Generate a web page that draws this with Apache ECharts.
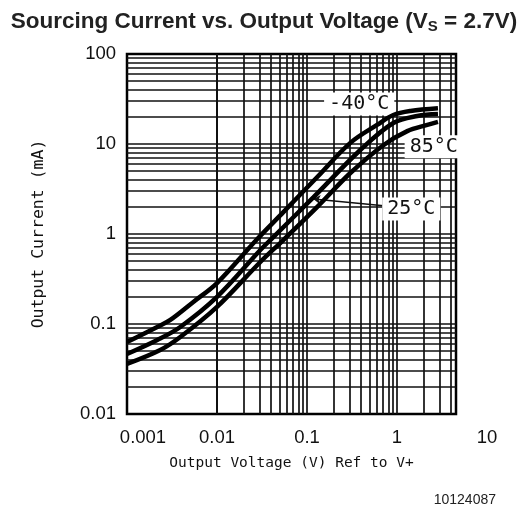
<!DOCTYPE html>
<html>
<head>
<meta charset="utf-8">
<script src="https://cdn.jsdelivr.net/npm/echarts@6/dist/echarts.min.js"></script>
<style>
  html, body { margin: 0; padding: 0; background: #fff; }
  #chart { width: 528px; height: 524px; }
</style>
</head>
<body>
<div id="chart"></div>
<script>
// Output voltage (V, referenced to V+) and sourcing current (mA) per temperature
const voltsM40 = [0.001, 0.00217, 0.00303, 0.00546, 0.01, 0.028, 0.0546, 0.13, 0.303, 0.6, 0.91, 1.41, 2.85];
const currM40  = [0.063, 0.0927, 0.111, 0.176, 0.285, 0.88, 1.75, 4.3, 10.3, 16.3, 21, 23.3, 25];

const volts25  = [0.001, 0.00217, 0.00391, 0.01, 0.0303, 0.0391, 0.1175, 0.391, 0.91, 1.68, 2.85];
const curr25   = [0.0464, 0.0664, 0.0927, 0.2, 0.664, 0.857, 2.55, 8.58, 17.1, 20.5, 21.5];

const volts85  = [0.001, 0.00234, 0.00391, 0.01, 0.0303, 0.0546, 0.13, 0.303, 0.705, 1.3, 2.17, 2.85];
const curr85   = [0.036, 0.0514, 0.0717, 0.155, 0.489, 0.857, 2.0, 4.76, 9.7, 13.9, 16.3, 17.6];

const seriesNames = ['-40°C', '25°C', '85°C'];

// Decade tick labels
const xTickLabels = ['0.001', '0.01', '0.1', '1', '10'];
const yTickLabels = ['0.01', '0.1', '1', '10', '100'];

const xMin = 0.001, xMax = 4.52;   // plotted voltage range
const yMin = 0.01,  yMax = 100;    // plotted current range

function pairs(xs, ys) { return xs.map((x, i) => [x, ys[i]]); }

// 1-2-3-...-9 log paper rulings inside the plot frame
function logRulings(lo, hi) {
  const out = [];
  for (let e = Math.floor(Math.log10(lo)); e <= Math.ceil(Math.log10(hi)); e++) {
    for (let k = 1; k <= 9; k++) {
      const v = +(k * Math.pow(10, e)).toPrecision(6);
      if (v > lo * 1.0001 && v < hi * 0.9999) out.push(v);
    }
  }
  return out;
}

const gridLines = []
  .concat(logRulings(xMin, xMax).map(v => ({ xAxis: v })))
  .concat(logRulings(yMin, yMax).map(v => ({ yAxis: v })));

const monoFont = '"DejaVu Sans Mono", monospace';
const sansFont = '"Liberation Sans", Arial, sans-serif';

function decadeIndex(v, first) { return Math.round(Math.log10(v)) - first; }

const curveStyle = { color: '#000', width: 4.5 };
const tagLabel = {
  show: true, position: 'inside', formatter: '{c}',
  fontFamily: monoFont, fontSize: 20, color: '#111',
  backgroundColor: '#fff', padding: [2, 5, 1, 5]
};

const option = {
  animation: false,
  backgroundColor: '#fff',
  title: [
    {
      text: '{b|Sourcing Current vs. Output Voltage (V}{s|S}{b| = 2.7V)}',
      left: 'center',
      top: 4,
      textStyle: {
        rich: {
          b: { fontFamily: sansFont, fontWeight: 'bold', fontSize: 22.5, color: '#222' },
          s: { fontFamily: sansFont, fontWeight: 'bold', fontSize: 15, color: '#222', verticalAlign: 'bottom', padding: [10, 0, 0, 0] }
        }
      }
    },
    {
      text: '10124087',
      right: 27,
      top: 488,
      textStyle: { fontFamily: sansFont, fontSize: 14, fontWeight: 'normal', color: '#222' }
    }
  ],
  grid: [
    { left: 127, top: 54, width: 329, height: 360, show: true, borderColor: '#000', borderWidth: 2.5, backgroundColor: 'transparent' },
    { left: 127, top: 54, width: 360, height: 360, show: false }
  ],
  xAxis: [
    {
      type: 'log', gridIndex: 0, min: xMin, max: xMax, logBase: 10,
      axisLine: { show: false }, axisTick: { show: false }, splitLine: { show: false },
      axisLabel: { show: false },
      name: 'Output Voltage (V) Ref to V+',
      nameLocation: 'middle', nameGap: 42,
      nameTextStyle: { fontFamily: monoFont, fontSize: 14.5, color: '#111' }
    },
    {
      type: 'log', gridIndex: 1, min: 0.001, max: 10, logBase: 10,
      axisLine: { show: false }, axisTick: { show: false }, splitLine: { show: false },
      axisLabel: {
        margin: 14,
        fontFamily: sansFont, fontSize: 18.5, color: '#111',
        formatter: function (v) {
          const i = decadeIndex(v, -3);
          const t = xTickLabels[i];
          return i === 0 ? '{first|' + t + '}' : t;
        },
        rich: { first: { fontFamily: sansFont, fontSize: 18.5, color: '#111', padding: [0, 0, 0, 32] } }
      }
    }
  ],
  yAxis: [
    {
      type: 'log', gridIndex: 0, min: yMin, max: yMax, logBase: 10,
      axisLine: { show: false }, axisTick: { show: false }, splitLine: { show: false },
      axisLabel: {
        margin: 11, fontFamily: sansFont, fontSize: 18.5, color: '#111',
        formatter: function (v) { return yTickLabels[decadeIndex(v, -2)]; }
      },
      name: 'Output Current (mA)',
      nameLocation: 'middle', nameGap: 80, nameRotate: 90,
      nameTextStyle: { fontFamily: monoFont, fontSize: 16.5, color: '#111' }
    },
    {
      type: 'log', gridIndex: 1, min: yMin, max: yMax, show: false
    }
  ],
  series: [
    {
      name: 'rulings', type: 'line', xAxisIndex: 0, yAxisIndex: 0, data: [], z: 1,
      silent: true,
      markLine: {
        silent: true, symbol: ['none', 'none'], animation: false,
        label: { show: false },
        lineStyle: { color: '#111', width: 1.7, type: 'solid' },
        data: gridLines
      }
    },
    {
      name: seriesNames[0], type: 'line', smooth: 0.35, showSymbol: false, z: 5,
      data: pairs(voltsM40, currM40), lineStyle: curveStyle,
      markPoint: {
        symbolSize: 0,
        data: [{ coord: [0.38, 27.8], value: seriesNames[0] }],
        label: tagLabel
      }
    },
    {
      name: seriesNames[1], type: 'line', smooth: 0.35, showSymbol: false, z: 5,
      data: pairs(volts25, curr25), lineStyle: curveStyle,
      markPoint: {
        symbolSize: 0,
        data: [{ coord: [1.44, 1.9], value: seriesNames[1] }],
        label: tagLabel
      },
      markLine: {
        silent: true, symbol: ['none', 'arrow'], symbolSize: 7,
        label: { show: false },
        lineStyle: { color: '#111', width: 1.5, type: 'solid' },
        data: [[{ coord: [0.76, 2.05] }, { coord: [0.1175, 2.45] }]]
      }
    },
    {
      name: seriesNames[2], type: 'line', smooth: 0.35, showSymbol: false, z: 5,
      data: pairs(volts85, curr85), lineStyle: curveStyle,
      markPoint: {
        symbolSize: 0,
        data: [{ coord: [2.46, 9.3], value: seriesNames[2] }],
        label: Object.assign({}, tagLabel, { padding: [2, 2, 1, 5] })
      }
    },
    {
      name: 'decadeLabels', type: 'line', xAxisIndex: 1, yAxisIndex: 1, data: [], silent: true
    }
  ]
};

const chart = echarts.init(document.getElementById('chart'), null, { renderer: 'canvas' });
chart.setOption(option);
</script>
</body>
</html>
